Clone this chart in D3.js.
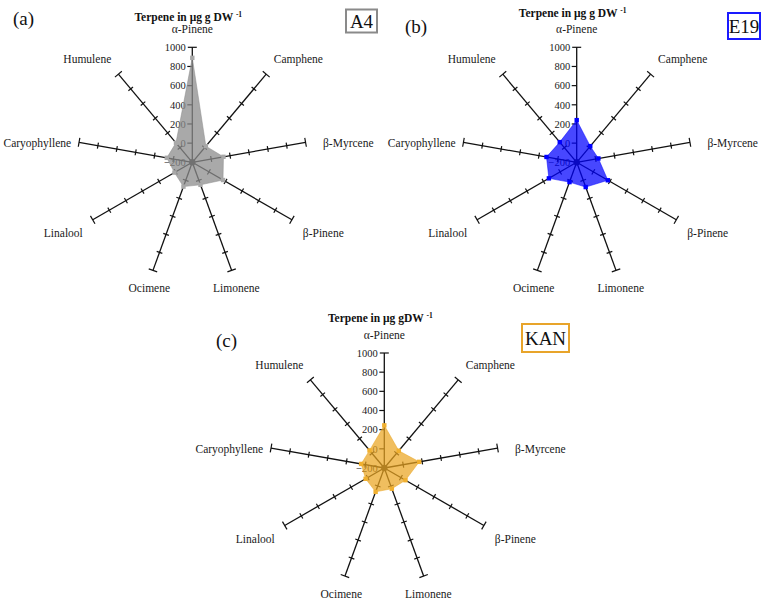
<!DOCTYPE html>
<html><head><meta charset="utf-8">
<script src="https://cdn.jsdelivr.net/npm/d3@7/dist/d3.min.js"></script>
<style>
body{margin:0;background:#fff;}
</style></head>
<body><svg id="c" width="769" height="603" font-family="Liberation Serif, DejaVu Serif, serif"></svg>
<script>
const categories = ["α-Pinene","Camphene","β-Myrcene","β-Pinene","Limonene","Ocimene","Linalool","Caryophyllene","Humulene"];
const seriesA4  = [890, 20, 130, 170, 50, 70, 15, 70, 65];
const seriesE19 = [240, 20, 30, 175, 75, 20, 135, 120, 75];
const seriesKAN = [245, 35, 170, 55, 30, 65, 25, 45, 40];
const tickValues = [-200, 0, 200, 400, 600, 800, 1000];
const panelLetters = ["(a)", "(b)", "(c)"];
const panelNames = ["A4", "E19", "KAN"];
const panelTitles = ["Terpene in μg g DW", "Terpene in μg g DW", "Terpene in μg gDW"];

const svg = d3.select("#c");
const R = 115;
const r = d3.scaleLinear().domain([-200, 1000]).range([0, R]);
const ang = d3.scaleLinear().domain([0, categories.length]).range([0, 2 * Math.PI]);

// layout: label anchor offsets (dx, baseline dy) relative to panel center, by axis index
const labelOff = [[0,-129],[106,-99],[156,-15],[131,75],[44,130],[-43,130],[-129,75],[-155,-15],[-105,-99]];

const panels = [
  {cx:192.3, cy:162.3, data:seriesA4, fill:"#8c8c8c", op:0.75, mark:"#a8a8a8", box:"#8a8a8a",
   titleY:20.7, letter:[13,25], boxR:[346,9.5,31,23]},
  {cx:576.7, cy:162.3, data:seriesE19, fill:"#0000ff", op:0.72, mark:"#0000ff", box:"#1a1aff",
   titleY:17, letter:[405,33], boxR:[728,13,32,26]},
  {cx:384.3, cy:468, data:seriesKAN, fill:"#eaa521", op:0.72, mark:"#f0b030", box:"#e8a42a",
   titleY:322, letter:[216,347], boxR:[522,324,47,28]}
];

panels.forEach((p, pi) => {
  const g = svg.append("g").attr("transform", `translate(${p.cx},${p.cy})`);
  const pt = (i, v) => { const a = ang(i); return [r(v) * Math.sin(a), -r(v) * Math.cos(a)]; };

  // axes
  categories.forEach((c, i) => {
    const a = ang(i);
    const ax = g.append("g").attr("transform", `rotate(${a * 180 / Math.PI})`);
    ax.append("line").attr("x1", 0).attr("y1", 0).attr("x2", 0).attr("y2", -R)
      .attr("stroke", "#111").attr("stroke-width", 1.3);
    tickValues.forEach(t => {
      const y = -r(t);
      if (t === tickValues[0]) return;
      let x1, x2;
      if (t === tickValues[tickValues.length - 1]) { x1 = -4.5; x2 = 4.5; }
      else if (i === 0) { x1 = -5; x2 = 0; }
      else { x1 = -3; x2 = 3; }
      ax.append("line").attr("x1", x1).attr("x2", x2).attr("y1", y).attr("y2", y)
        .attr("stroke", "#111").attr("stroke-width", 1.2);
    });
    g.append("text").attr("x", labelOff[i][0]).attr("y", labelOff[i][1])
      .attr("text-anchor", "middle").attr("font-size", "11.5px").attr("fill", "#1a1a1a").text(c);
  });

  // radial tick labels on first axis
  g.selectAll("text.tl").data(tickValues).enter().append("text").attr("class", "tl")
    .attr("x", -6.5).attr("y", d => -r(d) + 3.8).attr("text-anchor", "end")
    .attr("font-size", "10.5px").attr("fill", "#1a1a1a").text(d => d3.format("d")(d));

  g.append("circle").attr("r", 3.2).attr("fill", "#222");

  // filled series polygon
  const line = d3.line().curve(d3.curveLinearClosed);
  const pts = p.data.map((v, i) => pt(i, v));
  g.append("path").attr("d", line(pts)).attr("fill", p.fill).attr("fill-opacity", p.op)
    .attr("stroke", p.fill).attr("stroke-opacity", 0.5).attr("stroke-width", 1);
  g.selectAll("rect.mk").data(pts).enter().append("rect").attr("class", "mk")
    .attr("x", d => d[0] - 2.2).attr("y", d => d[1] - 2.2).attr("width", 4.4).attr("height", 4.4)
    .attr("fill", p.mark);

  // title
  const t = svg.append("text").attr("x", p.cx - 4).attr("y", p.titleY).attr("text-anchor", "middle")
    .attr("font-size", "11.5px").attr("font-weight", "bold").attr("fill", "#111");
  t.append("tspan").text(panelTitles[pi] + " ");
  t.append("tspan").attr("font-size", "7.5px").attr("dy", -4).text("-1");

  // panel letter
  svg.append("text").attr("x", p.letter[0]).attr("y", p.letter[1]).attr("font-size", "19px").attr("fill", "#111").text(panelLetters[pi]);

  // name box
  const b = p.boxR;
  svg.append("rect").attr("x", b[0]).attr("y", b[1]).attr("width", b[2]).attr("height", b[3])
    .attr("fill", "#fff").attr("stroke", p.box).attr("stroke-width", 2);
  svg.append("text").attr("x", b[0] + b[2] / 2).attr("y", b[1] + b[3] / 2 + 6.5).attr("text-anchor", "middle")
    .attr("font-size", "19px").attr("fill", "#111").text(panelNames[pi]);
});
</script></body></html>
